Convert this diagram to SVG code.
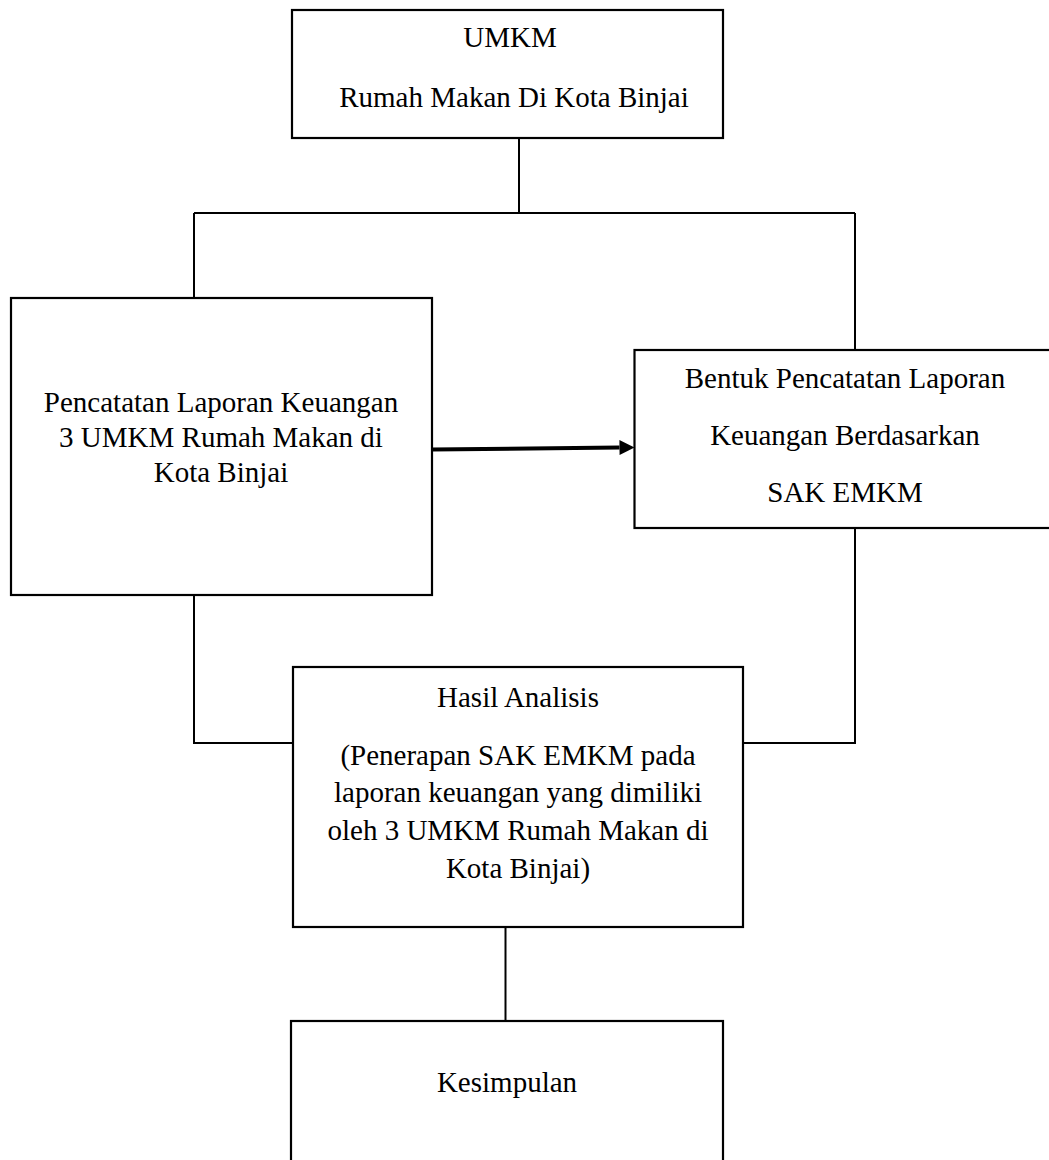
<svg xmlns="http://www.w3.org/2000/svg" width="1049" height="1160" viewBox="0 0 1049 1160">
<style>
  .box { fill: #ffffff; stroke: #000000; stroke-width: 2.2; }
  .conn { fill: none; stroke: #000000; stroke-width: 2; }
  .arrow { fill: none; stroke: #000000; stroke-width: 4; }
  text { font-family: "Liberation Serif", "Times New Roman", serif; font-size: 29px; fill: #000000; text-anchor: middle; }
</style>
<defs>
  <marker id="ah" markerUnits="userSpaceOnUse" markerWidth="17" markerHeight="17" refX="0" refY="7.5" orient="auto" overflow="visible">
    <path d="M0,0 L15,7.5 L0,15 Z" fill="#000000"/>
  </marker>
</defs>
<rect width="1049" height="1160" fill="#ffffff"/>
<g id="connectors">
  <path class="conn" d="M519,138 V213"/>
  <path class="conn" d="M194,213 H855"/>
  <path class="conn" d="M194,213 V298"/>
  <path class="conn" d="M855,213 V350"/>
  <path class="conn" d="M194,595 V743 H293"/>
  <path class="conn" d="M855,528 V743 H743"/>
  <path class="conn" d="M505.5,927 V1021"/>
  <path class="arrow" d="M432,449.5 L619.5,447.6" marker-end="url(#ah)"/>
</g>
<g id="node-umkm">
  <rect class="box" x="292" y="10" width="431" height="128"/>
  <text x="510" y="47">UMKM</text>
  <text x="514" y="107">Rumah Makan Di Kota Binjai</text>
</g>
<g id="node-pencatatan">
  <rect class="box" x="11" y="298" width="421" height="297"/>
  <text x="221" y="412">Pencatatan Laporan Keuangan</text>
  <text x="221" y="447">3 UMKM Rumah Makan di</text>
  <text x="221" y="482">Kota Binjai</text>
</g>
<g id="node-bentuk">
  <rect class="box" x="634.5" y="350" width="430" height="178"/>
  <text x="845" y="388">Bentuk Pencatatan Laporan</text>
  <text x="845" y="445">Keuangan Berdasarkan</text>
  <text x="845" y="502">SAK EMKM</text>
</g>
<g id="node-hasil">
  <rect class="box" x="293" y="667" width="450" height="260"/>
  <text x="518" y="707">Hasil Analisis</text>
  <text x="518" y="765">(Penerapan SAK EMKM pada</text>
  <text x="518" y="802">laporan keuangan yang dimiliki</text>
  <text x="518" y="840">oleh 3 UMKM Rumah Makan di</text>
  <text x="518" y="878">Kota Binjai)</text>
</g>
<g id="node-kesimpulan">
  <rect class="box" x="291" y="1021" width="432" height="160"/>
  <text x="507" y="1092">Kesimpulan</text>
</g>
</svg>
